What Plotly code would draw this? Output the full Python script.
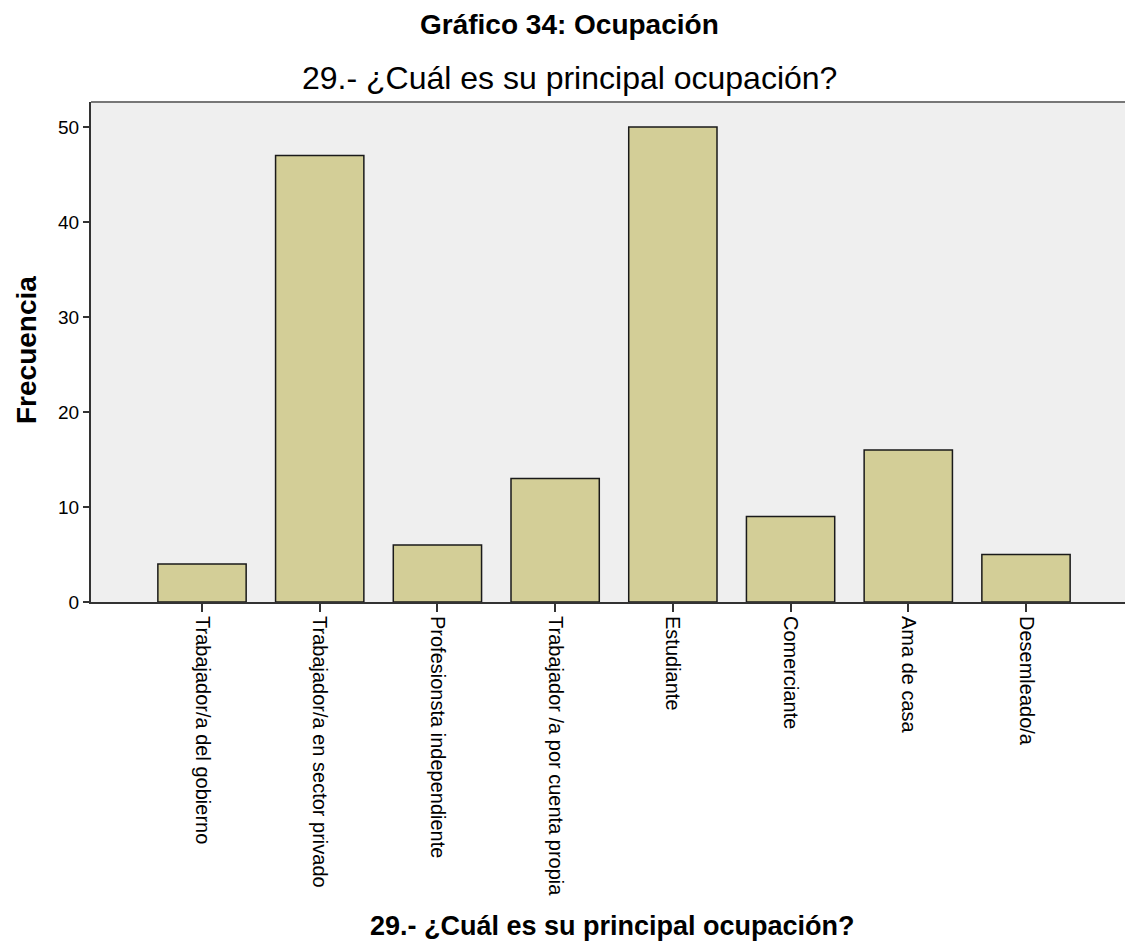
import plotly.graph_objects as go

# datos
categorias = [
    "Trabajador/a del gobierno",
    "Trabajador/a en sector privado",
    "Profesionsta independiente",
    "Trabajador /a por cuenta propia",
    "Estudiante",
    "Comerciante",
    "Ama de casa",
    "Desemleado/a",
]
frecuencias = [4, 47, 6, 13, 50, 9, 16, 5]
y_ticks = [0, 10, 20, 30, 40, 50]

titulo = "Gráfico 34: Ocupación"
pregunta = "29.- ¿Cuál es su principal ocupación?"

fuente = "Liberation Sans, Arial, sans-serif"

# area del grafico en pixeles de la pagina (la pagina tiene 8px de margen)
izq, der, arriba, abajo = 91, 1133, 102, 602


def px(x):
    return (x - izq) / (der - izq)


def py(y):
    return (abajo - y) / (abajo - arriba)


fig = go.Figure()
fig.add_trace(go.Bar(
    x=list(range(len(categorias))),
    y=frecuencias,
    width=0.75,
    marker=dict(color="#D3CE97", line=dict(color="#1a1a1a", width=1.5)),
    hoverinfo="y",
))

fig.update_layout(
    width=1125, height=939,
    margin=dict(l=83, r=0, t=94, b=345),
    paper_bgcolor="white",
    plot_bgcolor="#EFEFEF",
    showlegend=False,
    font=dict(family=fuente, color="black"),
    xaxis=dict(
        range=[-0.943, 7.909],
        tickmode="array",
        tickvals=list(range(len(categorias))),
        ticktext=categorias,
        tickangle=90,
        ticks="outside", ticklen=8, tickwidth=2, tickcolor="#333",
        showline=True, linecolor="#333", linewidth=2,
        showgrid=False, zeroline=False,
        tickfont=dict(size=20, family=fuente),
    ),
    yaxis=dict(
        range=[0, 52.63],
        tickvals=y_ticks,
        ticks="outside", ticklen=6, tickwidth=2, tickcolor="#333",
        showline=True, linecolor="#333", linewidth=2,
        showgrid=False, zeroline=False,
        tickfont=dict(size=19, family=fuente),
    ),
)

# borde superior del area del grafico
fig.add_shape(type="line", xref="paper", yref="paper", x0=0, x1=1, y0=1, y1=1,
              line=dict(color="#777", width=2))

fig.add_annotation(text="<b>" + titulo + "</b>", xref="paper", yref="paper",
                   x=px(569), y=py(24), xanchor="center", yanchor="middle",
                   showarrow=False, font=dict(size=28, family=fuente))
fig.add_annotation(text=pregunta, xref="paper", yref="paper",
                   x=px(569), y=py(78), xanchor="center", yanchor="middle",
                   showarrow=False, font=dict(size=32, family=fuente))
fig.add_annotation(text="<b>" + pregunta + "</b>", xref="paper", yref="paper",
                   x=px(612), y=py(926), xanchor="center", yanchor="middle",
                   showarrow=False, font=dict(size=27, family=fuente))
fig.add_annotation(text="<b>Frecuencia</b>", xref="paper", yref="paper",
                   x=px(26), y=py(350), xanchor="center", yanchor="middle",
                   textangle=-90, showarrow=False, font=dict(size=28, family=fuente))

fig.write_html("out.html")
